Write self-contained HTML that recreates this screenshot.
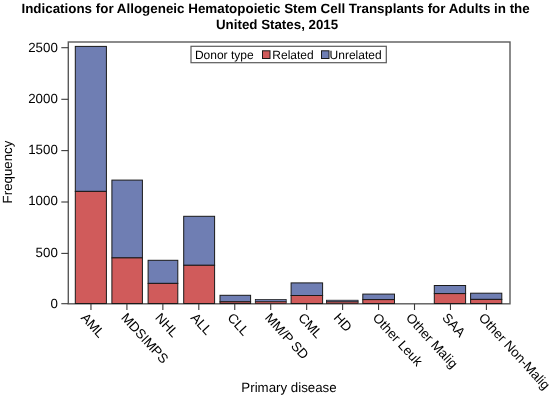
<!DOCTYPE html>
<html><head><meta charset="utf-8"><style>
html,body{margin:0;padding:0;background:#fff;width:553px;height:395px;overflow:hidden}
svg{display:block;will-change:transform}
text{font-family:"Liberation Sans",sans-serif;fill:#000;text-rendering:geometricPrecision}
.t{font-size:13.33px;font-weight:bold}
.n{font-size:13.3px}
.l{font-size:12px}
.x{font-size:13.35px}
</style></head><body>
<svg width="553" height="395" viewBox="0 0 553 395">
<text x="275.6" y="13" class="t" text-anchor="middle" textLength="508.3" lengthAdjust="spacingAndGlyphs">Indications for Allogeneic Hematopoietic Stem Cell Transplants for Adults in the</text>
<text x="277.1" y="29.0" class="t" text-anchor="middle">United States, 2015</text>
<rect x="68.3" y="42.0" width="441.7" height="261.8" fill="none" stroke="#5a5a5a" stroke-width="1.4"/>
<rect x="75.3" y="46.4" width="31.10" height="145.00" fill="#6F7EB3" stroke="#1a1a1a" stroke-width="1"/>
<rect x="75.3" y="191.4" width="31.10" height="112.10" fill="#D05B5B" stroke="#1a1a1a" stroke-width="1"/>
<rect x="111.9" y="180.1" width="30.50" height="77.80" fill="#6F7EB3" stroke="#1a1a1a" stroke-width="1"/>
<rect x="111.9" y="257.9" width="30.50" height="45.60" fill="#D05B5B" stroke="#1a1a1a" stroke-width="1"/>
<rect x="148.1" y="260.3" width="29.70" height="23.10" fill="#6F7EB3" stroke="#1a1a1a" stroke-width="1"/>
<rect x="148.1" y="283.4" width="29.70" height="20.10" fill="#D05B5B" stroke="#1a1a1a" stroke-width="1"/>
<rect x="183.7" y="216.3" width="30.90" height="49.00" fill="#6F7EB3" stroke="#1a1a1a" stroke-width="1"/>
<rect x="183.7" y="265.3" width="30.90" height="38.20" fill="#D05B5B" stroke="#1a1a1a" stroke-width="1"/>
<rect x="220.0" y="295.3" width="30.60" height="6.50" fill="#6F7EB3" stroke="#1a1a1a" stroke-width="1"/>
<rect x="220.0" y="301.8" width="30.60" height="1.70" fill="#D05B5B" stroke="#1a1a1a" stroke-width="1"/>
<rect x="255.3" y="299.5" width="30.90" height="2.30" fill="#6F7EB3" stroke="#1a1a1a" stroke-width="0.75"/>
<rect x="255.3" y="301.8" width="30.90" height="1.70" fill="#D05B5B" stroke="#1a1a1a" stroke-width="0.75"/>
<rect x="291.1" y="282.9" width="31.50" height="12.60" fill="#6F7EB3" stroke="#1a1a1a" stroke-width="1"/>
<rect x="291.1" y="295.5" width="31.50" height="8.00" fill="#D05B5B" stroke="#1a1a1a" stroke-width="1"/>
<rect x="326.4" y="300.2" width="31.70" height="1.70" fill="#6F7EB3" stroke="#1a1a1a" stroke-width="0.75"/>
<rect x="326.4" y="301.9" width="31.70" height="1.60" fill="#D05B5B" stroke="#1a1a1a" stroke-width="0.75"/>
<rect x="362.8" y="294.1" width="31.70" height="5.50" fill="#6F7EB3" stroke="#1a1a1a" stroke-width="1"/>
<rect x="362.8" y="299.6" width="31.70" height="3.90" fill="#D05B5B" stroke="#1a1a1a" stroke-width="1"/>
<rect x="434.3" y="285.5" width="31.30" height="8.10" fill="#6F7EB3" stroke="#1a1a1a" stroke-width="1"/>
<rect x="434.3" y="293.6" width="31.30" height="9.90" fill="#D05B5B" stroke="#1a1a1a" stroke-width="1"/>
<rect x="470.6" y="293.2" width="31.20" height="6.20" fill="#6F7EB3" stroke="#1a1a1a" stroke-width="1"/>
<rect x="470.6" y="299.4" width="31.20" height="4.10" fill="#D05B5B" stroke="#1a1a1a" stroke-width="1"/>
<line x1="61.3" y1="303.70" x2="68.3" y2="303.70" stroke="#3a3a3a" stroke-width="1.1"/>
<text x="57.8" y="307.70" class="n" text-anchor="end">0</text>
<line x1="61.3" y1="253.40" x2="68.3" y2="253.40" stroke="#3a3a3a" stroke-width="1.1"/>
<text x="57.8" y="256.80" class="n" text-anchor="end">500</text>
<line x1="61.3" y1="202.00" x2="68.3" y2="202.00" stroke="#3a3a3a" stroke-width="1.1"/>
<text x="57.8" y="205.30" class="n" text-anchor="end">1000</text>
<line x1="61.3" y1="150.60" x2="68.3" y2="150.60" stroke="#3a3a3a" stroke-width="1.1"/>
<text x="57.8" y="154.10" class="n" text-anchor="end">1500</text>
<line x1="61.3" y1="99.30" x2="68.3" y2="99.30" stroke="#3a3a3a" stroke-width="1.1"/>
<text x="57.8" y="103.30" class="n" text-anchor="end">2000</text>
<line x1="61.3" y1="47.70" x2="68.3" y2="47.70" stroke="#3a3a3a" stroke-width="1.1"/>
<text x="57.8" y="51.70" class="n" text-anchor="end">2500</text>
<line x1="90.96" y1="303.8" x2="90.96" y2="310" stroke="#3a3a3a" stroke-width="1.1"/>
<text transform="translate(80.3,318.3) rotate(47.5)" class="x">AML</text>
<line x1="126.91" y1="303.8" x2="126.91" y2="310" stroke="#3a3a3a" stroke-width="1.1"/>
<text transform="translate(120.5,318.3) rotate(47.5)" class="x">MDSIMPS</text>
<line x1="162.86" y1="303.8" x2="162.86" y2="310" stroke="#3a3a3a" stroke-width="1.1"/>
<text transform="translate(154.6,318.3) rotate(47.5)" class="x">NHL</text>
<line x1="198.81" y1="303.8" x2="198.81" y2="310" stroke="#3a3a3a" stroke-width="1.1"/>
<text transform="translate(190.1,318.3) rotate(47.5)" class="x">ALL</text>
<line x1="234.76" y1="303.8" x2="234.76" y2="310" stroke="#3a3a3a" stroke-width="1.1"/>
<text transform="translate(226.7,318.3) rotate(47.5)" class="x">CLL</text>
<line x1="270.71" y1="303.8" x2="270.71" y2="310" stroke="#3a3a3a" stroke-width="1.1"/>
<text transform="translate(264.3,318.3) rotate(47.5)" class="x">MM/P SD</text>
<line x1="306.66" y1="303.8" x2="306.66" y2="310" stroke="#3a3a3a" stroke-width="1.1"/>
<text transform="translate(297.5,318.3) rotate(47.5)" class="x">CML</text>
<line x1="342.61" y1="303.8" x2="342.61" y2="310" stroke="#3a3a3a" stroke-width="1.1"/>
<text transform="translate(333.1,318.3) rotate(47.5)" class="x">HD</text>
<line x1="378.56" y1="303.8" x2="378.56" y2="310" stroke="#3a3a3a" stroke-width="1.1"/>
<text transform="translate(372.1,318.3) rotate(47.5)" class="x">Other Leuk</text>
<line x1="414.51" y1="303.8" x2="414.51" y2="310" stroke="#3a3a3a" stroke-width="1.1"/>
<text transform="translate(405.3,318.3) rotate(47.5)" class="x">Other Malig</text>
<line x1="450.46" y1="303.8" x2="450.46" y2="310" stroke="#3a3a3a" stroke-width="1.1"/>
<text transform="translate(441.55,318.3) rotate(47.5)" class="x">SAA</text>
<line x1="486.41" y1="303.8" x2="486.41" y2="310" stroke="#3a3a3a" stroke-width="1.1"/>
<text transform="translate(478.1,318.3) rotate(47.5)" class="x">Other Non-Malig</text>
<text transform="translate(11.7,172.0) rotate(-90)" class="n" text-anchor="middle">Frequency</text>
<text x="289" y="391.5" class="n" text-anchor="middle">Primary disease</text>
<rect x="191.0" y="46.3" width="195.3" height="16.4" fill="#fff" stroke="#5a5a5a" stroke-width="1.2"/>
<text x="194.9" y="58.6" class="l">Donor type</text>
<rect x="262.5" y="50.8" width="7.5" height="7.7" fill="#D05B5B" stroke="#1a1a1a" stroke-width="1"/>
<text x="272.3" y="58.6" class="l">Related</text>
<rect x="321.5" y="50.8" width="7.5" height="7.7" fill="#6F7EB3" stroke="#1a1a1a" stroke-width="1"/>
<text x="329.6" y="58.6" class="l">Unrelated</text>
</svg>
</body></html>
